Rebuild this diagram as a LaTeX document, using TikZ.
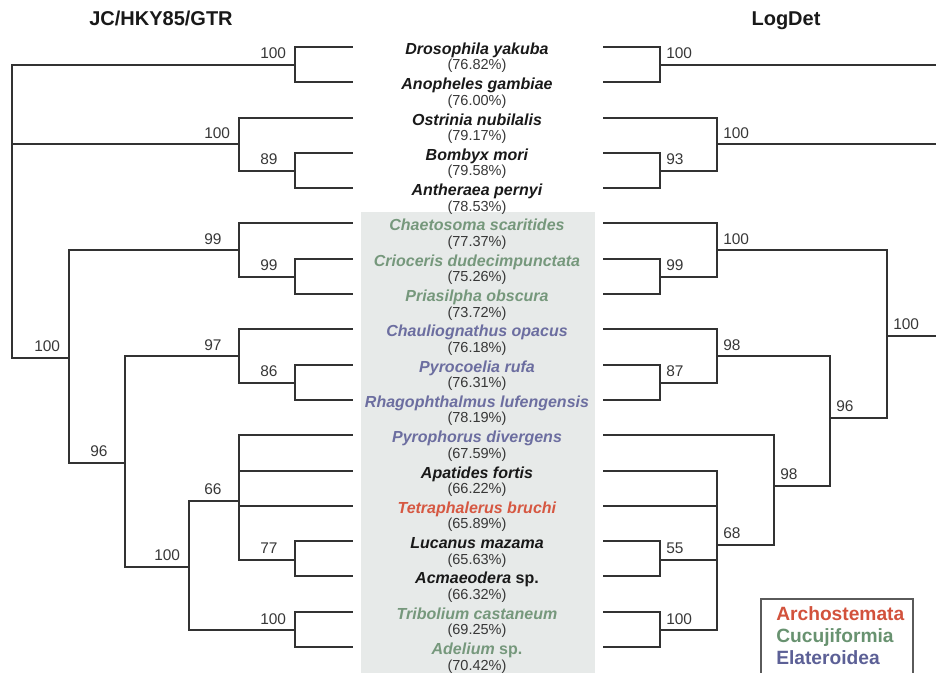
\documentclass[tikz,border=0pt]{standalone}
\usepackage{fontspec}
\setmainfont{Liberation Sans}
\definecolor{lineC}{RGB}{50,50,50}
\definecolor{boxC}{RGB}{231,234,233}
\definecolor{blk}{RGB}{25,25,25}
\definecolor{pctC}{RGB}{55,55,55}
\definecolor{grn}{RGB}{118,152,124}
\definecolor{blu}{RGB}{108,110,160}
\definecolor{red}{RGB}{214,88,66}
\definecolor{lgRed}{RGB}{210,82,60}
\definecolor{lgGrn}{RGB}{104,146,112}
\definecolor{lgBlu}{RGB}{92,96,150}
\definecolor{legC}{RGB}{90,90,90}
\begin{document}
\begin{tikzpicture}[x=0.75pt,y=-0.75pt,
  br/.style={draw=lineC, line width=1.5pt},
  bs/.style={inner sep=0pt, text=pctC, font=\fontsize{11.6}{12}\selectfont},
  bsl/.style={bs, anchor=base west, xshift=-26.25pt, yshift=4.5pt},
  bsr/.style={bs, anchor=base west, xshift=4.5pt, yshift=4.5pt},
  spn/.style={inner sep=0pt, anchor=base, font=\fontsize{12}{13}\selectfont\bfseries},
  pct/.style={inner sep=0pt, anchor=base, text=pctC, font=\fontsize{10.9}{12}\selectfont},
  ttl/.style={inner sep=0pt, anchor=base, text=blk, font=\fontsize{15}{16}\selectfont\bfseries},
  lg/.style={inner sep=0pt, anchor=base west, font=\fontsize{14.4}{15}\selectfont\bfseries}]
\useasboundingbox (0,0) rectangle (936,673);
% grey band behind the beetle names
\fill[boxC] (361,212) rectangle (595,673);

% titles
\node[ttl] (titleL) at (161,26) {JC/HKY85/GTR};
\node[ttl] (titleR) at (786,26) {LogDet};

% tips and names
\foreach \i/\nm/\pc/\cl in {
  1/{\textit{Drosophila yakuba}}/76.82/blk,
  2/{\textit{Anopheles gambiae}}/76.00/blk,
  3/{\textit{Ostrinia nubilalis}}/79.17/blk,
  4/{\textit{Bombyx mori}}/79.58/blk,
  5/{\textit{Antheraea pernyi}}/78.53/blk,
  6/{\textit{Chaetosoma scaritides}}/77.37/grn,
  7/{\textit{Crioceris dudecimpunctata}}/75.26/grn,
  8/{\textit{Priasilpha obscura}}/73.72/grn,
  9/{\textit{Chauliognathus opacus}}/76.18/blu,
  10/{\textit{Pyrocoelia rufa}}/76.31/blu,
  11/{\textit{Rhagophthalmus lufengensis}}/78.19/blu,
  12/{\textit{Pyrophorus divergens}}/67.59/blu,
  13/{\textit{Apatides fortis}}/66.22/blk,
  14/{\textit{Tetraphalerus bruchi}}/65.89/red,
  15/{\textit{Lucanus mazama}}/65.63/blk,
  16/{\textit{Acmaeodera} sp.}/66.32/blk,
  17/{\textit{Tribolium castaneum}}/69.25/grn,
  18/{\textit{Adelium} sp.}/70.42/grn}{
  \pgfmathsetmacro{\ty}{47+35.3*(\i-1)}
  \coordinate (L\i) at (353,\ty);
  \coordinate (R\i) at (603,\ty);
  \node[spn, text=\cl] (s\i) at (477,{\ty+7.5}) {\nm};
  \node[pct] (p\i) at (477,{\ty+23}) {(\pc\%)};
}

% ---------- left tree ----------
\coordinate (lDA) at (295,64.7);
\coordinate (lBA) at (295,170.7);
\coordinate (lLep) at (239,144.2);
\coordinate (lCP) at (295,276.8);
\coordinate (lCuc) at (239,250.5);
\coordinate (lPR) at (295,382.8);
\coordinate (lEla) at (239,356.5);
\coordinate (lLA) at (295,559.6);
\coordinate (lPoly) at (239,501);
\coordinate (lTA) at (295,630.3);
\coordinate (lX) at (189,567);
\coordinate (lY) at (125,463);
\coordinate (lBeetle) at (69,358);
\coordinate (lRoot) at (12,200);

\draw[br] (lDA) |- (L1); \draw[br] (lDA) |- (L2);
\draw[br] (lBA) |- (L4); \draw[br] (lBA) |- (L5);
\draw[br] (lLep) |- (L3); \draw[br] (lLep) |- (lBA);
\draw[br] (lCP) |- (L7); \draw[br] (lCP) |- (L8);
\draw[br] (lCuc) |- (L6); \draw[br] (lCuc) |- (lCP);
\draw[br] (lPR) |- (L10); \draw[br] (lPR) |- (L11);
\draw[br] (lEla) |- (L9); \draw[br] (lEla) |- (lPR);
\draw[br] (lLA) |- (L15); \draw[br] (lLA) |- (L16);
\draw[br] (lPoly) |- (L12); \draw[br] (lPoly) |- (L13);
\draw[br] (lPoly) |- (L14); \draw[br] (lPoly) |- (lLA);
\draw[br] (lTA) |- (L17); \draw[br] (lTA) |- (L18);
\draw[br] (lX) |- (lPoly); \draw[br] (lX) |- (lTA);
\draw[br] (lY) |- (lEla); \draw[br] (lY) |- (lX);
\draw[br] (lBeetle) |- (lCuc); \draw[br] (lBeetle) |- (lY);
\draw[br] (lRoot) |- (lDA); \draw[br] (lRoot) |- (lLep); \draw[br] (lRoot) |- (lBeetle);

\node[bsl] (blDA) at (lDA) {100};
\node[bsl] (blBA) at (lBA) {89};
\node[bsl] (blLep) at (lLep) {100};
\node[bsl] (blCP) at (lCP) {99};
\node[bsl] (blCuc) at (lCuc) {99};
\node[bsl] (blPR) at (lPR) {86};
\node[bsl] (blEla) at (lEla) {97};
\node[bsl] (blLA) at (lLA) {77};
\node[bsl] (blPoly) at (lPoly) {66};
\node[bsl] (blTA) at (lTA) {100};
\node[bsl] (blX) at (lX) {100};
\node[bsl] (blY) at (lY) {96};
\node[bsl] (blBeetle) at (lBeetle) {100};

% ---------- right tree ----------
\coordinate (rDA) at (660,64.7);
\coordinate (rBA) at (660,170.7);
\coordinate (rLep) at (717,144.2);
\coordinate (rCP) at (660,276.8);
\coordinate (rCuc) at (717,250.5);
\coordinate (rPR) at (660,382.8);
\coordinate (rEla) at (717,356.5);
\coordinate (rLA) at (660,559.6);
\coordinate (rTA) at (660,630.3);
\coordinate (rPoly) at (717,545);
\coordinate (rPyro) at (774,486);
\coordinate (rEP) at (830,418);
\coordinate (rBeetle) at (887,336);
\coordinate (rOutA) at (936,64.7);
\coordinate (rOutB) at (936,144.2);
\coordinate (rOutC) at (936,336);

\draw[br] (rDA) |- (R1); \draw[br] (rDA) |- (R2);
\draw[br] (rBA) |- (R4); \draw[br] (rBA) |- (R5);
\draw[br] (rLep) |- (R3); \draw[br] (rLep) |- (rBA);
\draw[br] (rCP) |- (R7); \draw[br] (rCP) |- (R8);
\draw[br] (rCuc) |- (R6); \draw[br] (rCuc) |- (rCP);
\draw[br] (rPR) |- (R10); \draw[br] (rPR) |- (R11);
\draw[br] (rEla) |- (R9); \draw[br] (rEla) |- (rPR);
\draw[br] (rLA) |- (R15); \draw[br] (rLA) |- (R16);
\draw[br] (rTA) |- (R17); \draw[br] (rTA) |- (R18);
\draw[br] (rPoly) |- (R13); \draw[br] (rPoly) |- (R14);
\draw[br] (rPoly) |- (rLA); \draw[br] (rPoly) |- (rTA);
\draw[br] (rPyro) |- (R12); \draw[br] (rPyro) |- (rPoly);
\draw[br] (rEP) |- (rEla); \draw[br] (rEP) |- (rPyro);
\draw[br] (rBeetle) |- (rCuc); \draw[br] (rBeetle) |- (rEP);
\draw[br] (rDA) -- (rOutA);
\draw[br] (rLep) -- (rOutB);
\draw[br] (rBeetle) -- (rOutC);

\node[bsr] (brDA) at (rDA) {100};
\node[bsr] (brBA) at (rBA) {93};
\node[bsr] (brLep) at (rLep) {100};
\node[bsr] (brCP) at (rCP) {99};
\node[bsr] (brCuc) at (rCuc) {100};
\node[bsr] (brPR) at (rPR) {87};
\node[bsr] (brEla) at (rEla) {98};
\node[bsr] (brLA) at (rLA) {55};
\node[bsr] (brTA) at (rTA) {100};
\node[bsr] (brPoly) at (rPoly) {68};
\node[bsr] (brPyro) at (rPyro) {98};
\node[bsr] (brEP) at (rEP) {96};
\node[bsr] (brBeetle) at (rBeetle) {100};

% ---------- legend ----------
\draw[legC, line width=1.2pt] (761,673) -- (761,599) -- (913,599) -- (913,673);
\node[lg, text=lgRed] (lgA) at (776,620) {Archostemata};
\node[lg, text=lgGrn] (lgC) at (776,642) {Cucujiformia};
\node[lg, text=lgBlu] (lgE) at (776,664) {Elateroidea};
\end{tikzpicture}
\end{document}
